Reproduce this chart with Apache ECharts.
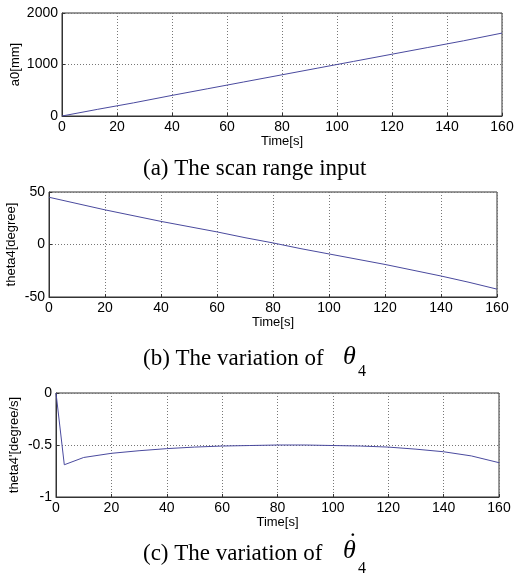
<!DOCTYPE html>
<html>
<head>
<meta charset="utf-8">
<script src="https://cdn.jsdelivr.net/npm/echarts@6/dist/echarts.min.js"></script>
<style>html,body{margin:0;padding:0;background:#fff;}#c{width:515px;height:575px;}</style>
</head>
<body>
<div id="c"></div>
<script>
var a0Time = [0, 13, 26, 40, 53, 66, 80, 93, 106, 120, 133, 146, 160];
var a0Vals = [0, 130, 255, 400, 530, 660, 800, 930, 1060, 1200, 1330, 1460, 1610];

var theta4Time = [0, 10, 20, 30, 40, 50, 60, 70, 80, 90, 100, 110, 120, 130, 140, 150, 160];
var theta4Vals = [45, 39, 33, 27.5, 22, 17, 12, 6.5, 1.5, -4, -9, -14, -19, -24.5, -30, -36, -42.5];

var theta4dTime = [0, 3, 10, 20, 30, 40, 50, 60, 70, 80, 90, 100, 110, 120, 130, 140, 150, 160];
var theta4dVals = [0, -0.69, -0.62, -0.58, -0.555, -0.535, -0.52, -0.51, -0.505, -0.50, -0.50, -0.505, -0.51, -0.52, -0.54, -0.565, -0.605, -0.67];

var yNames = ['a0[mm]', 'theta4[degree]', "theta4'[degree/s]"];
var captions = ['(a) The scan range input', '(b) The variation of', '(c) The variation of'];

function pairs(t, v) { return t.map(function (x, i) { return [x, v[i]]; }); }

var font = 'Liberation Sans, Arial, sans-serif';
var serif = 'Liberation Serif, Times New Roman, serif';
var lineColor = '#4a4a9e';

function xAxis(gi) {
  return {
    type: 'value', gridIndex: gi, min: 0, max: 160, interval: 20,
    name: 'Time[s]', nameLocation: 'middle', nameGap: 19, nameMoveOverlap: false,
    nameTextStyle: { color: '#000', fontFamily: font, fontSize: 13 },
    axisLine: { show: true, onZero: false, lineStyle: { color: '#333' } },
    axisTick: { show: true, inside: true, length: 3, lineStyle: { color: '#333' } },
    axisLabel: { color: '#000', fontFamily: font, fontSize: 14, margin: 4 },
    splitLine: { show: true, lineStyle: { color: '#777', type: [1, 2], width: 1 } }
  };
}
function yAxis(gi, min, max, interval, name, gap) {
  return {
    type: 'value', gridIndex: gi, min: min, max: max, interval: interval,
    name: name, nameLocation: 'middle', nameGap: gap, nameRotate: 90, nameMoveOverlap: false,
    nameTextStyle: { color: '#000', fontFamily: font, fontSize: 13 },
    axisLine: { show: true, onZero: false, lineStyle: { color: '#333' } },
    axisTick: { show: true, inside: true, length: 3, lineStyle: { color: '#333' } },
    axisLabel: { color: '#000', fontFamily: font, fontSize: 14, margin: 4,
      formatter: function (v) { return String(v); } },
    splitLine: { show: true, lineStyle: { color: '#777', type: [1, 2], width: 1 } }
  };
}
function series(gi, data) {
  return {
    type: 'line', xAxisIndex: gi, yAxisIndex: gi, data: data,
    showSymbol: false, lineStyle: { color: lineColor, width: 1 }, animation: false
  };
}
function txt(text, x, y, size, italic) {
  return {
    type: 'text', x: x, y: y, silent: true,
    style: {
      text: text, fill: '#000',
      font: (italic ? 'italic ' : '') + size + 'px ' + serif,
      textAlign: 'left', textVerticalAlign: 'middle', align: 'left', verticalAlign: 'middle'
    }
  };
}
function grid(left, right, top, height) {
  return { left: left, right: right, top: top, height: height, show: true,
    borderColor: '#333', borderWidth: 1, containLabel: false, outerBoundsMode: 'none' };
}

var chart = echarts.init(document.getElementById('c'));
chart.setOption({
  backgroundColor: '#fff',
  animation: false,
  graphic: [
    txt(captions[0], 143, 169, 23, false),
    txt(captions[1], 143, 359, 23, false),
    txt('θ', 343, 357, 26, true),
    txt('4', 358, 372, 16, false),
    txt(captions[2], 143, 554, 23, false),
    txt('θ', 343, 551, 26, true),
    txt('·', 349, 536, 23, false),
    txt('4', 358, 569, 16, false)
  ],
  grid: [
    grid(62, 13, 13, 103),
    grid(49, 18, 192, 105),
    grid(56, 16, 393, 104)
  ],
  xAxis: [xAxis(0), xAxis(1), xAxis(2)],
  yAxis: [
    yAxis(0, 0, 2000, 1000, yNames[0], 40),
    yAxis(1, -50, 50, 50, yNames[1], 31),
    yAxis(2, -1, 0, 0.5, yNames[2], 35)
  ],
  series: [
    series(0, pairs(a0Time, a0Vals)),
    series(1, pairs(theta4Time, theta4Vals)),
    series(2, pairs(theta4dTime, theta4dVals))
  ]
});
</script>
</body>
</html>
